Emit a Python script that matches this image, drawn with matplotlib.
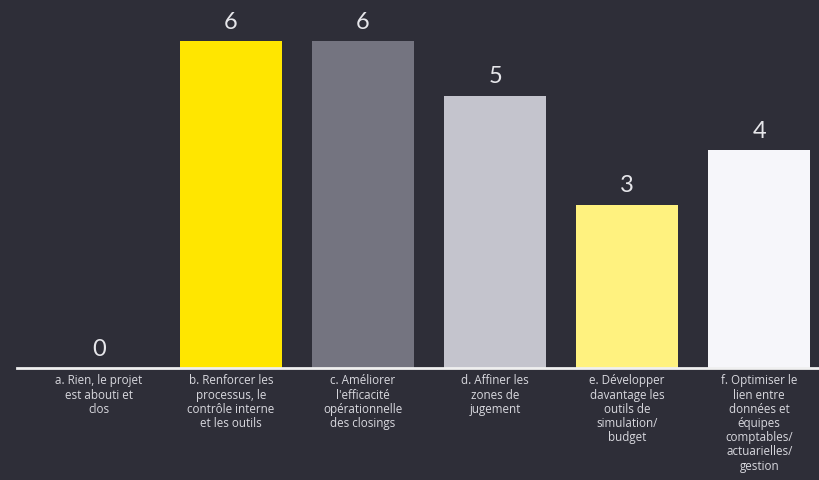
import matplotlib
matplotlib.use("Agg")
import matplotlib.pyplot as plt

categories = [
    "a. Rien, le projet\nest abouti et\nclos",
    "b. Renforcer les\nprocessus, le\ncontrôle interne\net les outils",
    "c. Améliorer\nl'efficacité\nopérationnelle\ndes closings",
    "d. Affiner les\nzones de\njugement",
    "e. Développer\ndavantage les\noutils de\nsimulation/\nbudget",
    "f. Optimiser le\nlien entre\ndonnées et\néquipes\ncomptables/\nactuarielles/\ngestion",
]
values = [0, 6, 6, 5, 3, 4]
colors = ["#FFE600", "#FFE600", "#747480", "#C4C4CD", "#FFF27F", "#F6F6FA"]

bg = "#2E2E38"
text_color = "#E6E6EA"

plt.rcParams["font.family"] = ["Lato", "DejaVu Sans"]

fig = plt.figure(figsize=(8.2, 4.81), dpi=100, facecolor=bg)
W, H = 820, 481
base_y = 369
ax = fig.add_axes([17 / W, 1 - base_y / H, 1 - 17 / W, base_y / H])
ax.set_facecolor(bg)

x = list(range(len(values)))
ax.bar(x, values, width=0.77, color=colors)

# value above each bar
for xi, v in zip(x, values):
    ax.text(xi, v + 0.17, str(v), ha="center", va="bottom",
            fontsize=17, color=text_color)

# category names under the baseline
for xi, lab in zip(x, categories):
    ax.text(xi, -0.1, lab, ha="center", va="top", fontsize=8.4,
            family=["Open Sans", "DejaVu Sans"],
            color="#D8D8DE", linespacing=1.12, clip_on=False)

ax.set_xlim(-0.62, 5.46)
ax.set_ylim(0, base_y / 54.5)
ax.axhline(0, color="#F0F0F0", lw=2, clip_on=False)

for s in ax.spines.values():
    s.set_visible(False)
ax.set_xticks([])
ax.set_yticks([])

fig.savefig("out.png", dpi=100, facecolor=bg)
